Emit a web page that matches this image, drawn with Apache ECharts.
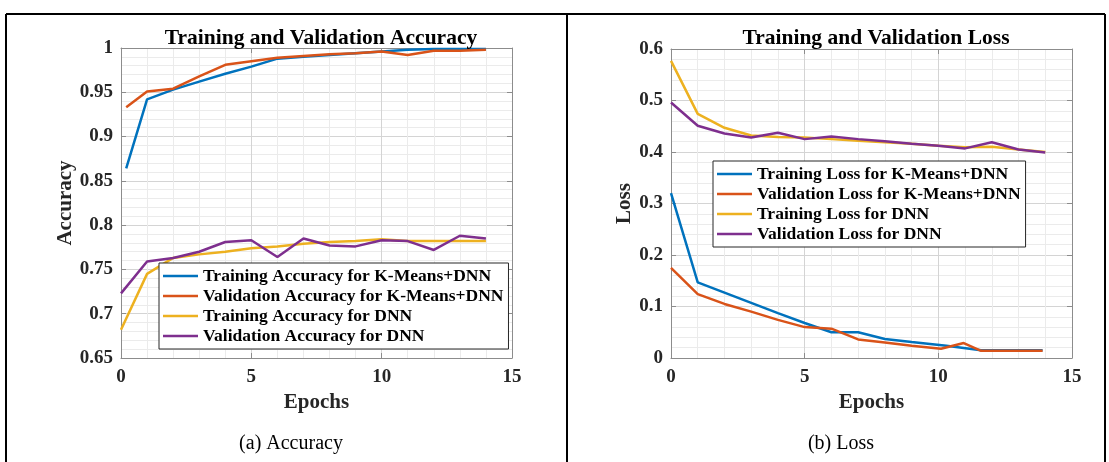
<!DOCTYPE html>
<html>
<head>
<meta charset="utf-8">
<script src="https://cdn.jsdelivr.net/npm/echarts@6/dist/echarts.min.js"></script>
<style>
html,body{margin:0;padding:0;background:#fff;}
#c{width:1109px;height:462px;}
</style>
</head>
<body>
<div id="c"></div>
<script>
// ---------- data ----------
const seriesNamesAcc = [
  'Training Accuracy for K-Means+DNN',
  'Validation Accuracy for K-Means+DNN',
  'Training Accuracy for DNN',
  'Validation Accuracy for DNN'
];
const seriesNamesLoss = [
  'Training Loss for K-Means+DNN',
  'Validation Loss for K-Means+DNN',
  'Training Loss for DNN',
  'Validation Loss for DNN'
];
const xTicks = [0, 5, 10, 15];
const accTicks = [0.65, 0.7, 0.75, 0.8, 0.85, 0.9, 0.95, 1];
const lossTicks = [0, 0.1, 0.2, 0.3, 0.4, 0.5, 0.6];

const accEpochsKM = [0.2, 1, 2, 3, 4, 5, 6, 7, 8, 9, 10, 11, 12, 13, 14];
const accTrainKM  = [0.864, 0.942, 0.953, 0.962, 0.971, 0.979, 0.988, 0.990, 0.992, 0.994, 0.996, 0.998, 0.999, 0.999, 0.999];
const accValKM    = [0.933, 0.951, 0.954, 0.968, 0.981, 0.985, 0.989, 0.991, 0.993, 0.994, 0.996, 0.992, 0.997, 0.997, 0.998];
const accEpochsDNN = [0, 1, 2, 3, 4, 5, 6, 7, 8, 9, 10, 11, 12, 13, 14];
const accTrainDNN = [0.682, 0.745, 0.763, 0.767, 0.770, 0.774, 0.776, 0.779, 0.781, 0.782, 0.784, 0.782, 0.782, 0.782, 0.782];
const accValDNN   = [0.723, 0.759, 0.763, 0.770, 0.781, 0.783, 0.764, 0.785, 0.777, 0.776, 0.783, 0.782, 0.772, 0.788, 0.785];

const lossEpochsTrainKM = [0, 1, 2, 3, 4, 5, 6, 7, 8, 9, 10.3, 11.6, 13.9];
const lossTrainKM       = [0.320, 0.147, 0.127, 0.107, 0.087, 0.068, 0.050, 0.050, 0.037, 0.031, 0.024, 0.015, 0.015];
const lossEpochsValKM   = [0, 1, 2, 3, 4, 5, 6, 7, 8, 9, 10.1, 10.95, 11.6, 13.9];
const lossValKM         = [0.175, 0.124, 0.105, 0.090, 0.074, 0.060, 0.057, 0.036, 0.030, 0.024, 0.018, 0.029, 0.014, 0.014];
const lossEpochsDNN = [0, 1, 2, 3, 4, 5, 6, 7, 8, 9, 10, 11, 12, 13, 14];
const lossTrainDNN  = [0.577, 0.474, 0.447, 0.432, 0.429, 0.428, 0.425, 0.422, 0.419, 0.416, 0.412, 0.409, 0.410, 0.405, 0.400];
const lossValDNN    = [0.496, 0.451, 0.436, 0.428, 0.4375, 0.425, 0.430, 0.425, 0.421, 0.416, 0.412, 0.407, 0.419, 0.405, 0.399];

const colors = ['#0072BD', '#D95319', '#EDB120', '#7E2F8E'];

// ---------- helpers ----------
const FONT = 'Liberation Serif';
const pair = (xs, ys) => xs.map((x, i) => [x, ys[i]]);
const axisGray = '#8c8c8c';

function xAx(grid, pos, ticks) {
  const iv = ticks[1] - ticks[0];
  const main = pos === 'bottom';
  return {
    type: 'value', gridIndex: grid, position: pos,
    min: ticks[0], max: ticks[ticks.length - 1], interval: iv,
    name: main ? 'Epochs' : '', nameLocation: 'middle', nameGap: 33,
    nameTextStyle: {fontFamily: FONT, fontWeight: 'bold', fontSize: 21, color: '#262626'},
    axisLine: {show: true, onZero: false, lineStyle: {color: axisGray, width: 1}},
    axisTick: {show: true, inside: true, length: 5, lineStyle: {color: axisGray}},
    axisLabel: {show: main, margin: 10, fontFamily: FONT, fontWeight: 'bold', fontSize: 19, color: '#262626'},
    splitLine: {show: main, lineStyle: {color: '#d4d4d4', width: 1}},
    minorTick: {show: false, splitNumber: 5},
    minorSplitLine: {show: main, lineStyle: {color: '#ebebeb', width: 1}}
  };
}
function yAx(grid, pos, ticks, name, gap) {
  const iv = +(ticks[1] - ticks[0]).toFixed(4);
  const main = pos === 'left';
  return {
    type: 'value', gridIndex: grid, position: pos,
    min: ticks[0], max: ticks[ticks.length - 1], interval: iv,
    name: main ? name : '', nameLocation: 'middle', nameGap: gap, nameRotate: 90,
    nameTextStyle: {fontFamily: FONT, fontWeight: 'bold', fontSize: 21, color: '#262626'},
    axisLine: {show: true, onZero: false, lineStyle: {color: axisGray, width: 1}},
    axisTick: {show: true, inside: true, length: 5, lineStyle: {color: axisGray}},
    axisLabel: {show: main, margin: 8, fontFamily: FONT, fontWeight: 'bold', fontSize: 19, color: '#262626'},
    splitLine: {show: main, lineStyle: {color: '#d4d4d4', width: 1}},
    minorTick: {show: false, splitNumber: 5},
    minorSplitLine: {show: main, lineStyle: {color: '#ebebeb', width: 1}}
  };
}
function ser(name, data, xi, yi, color) {
  return {
    name, type: 'line', data, xAxisIndex: xi, yAxisIndex: yi,
    showSymbol: false, symbol: 'none', animation: false,
    lineStyle: {color, width: 2.5}, itemStyle: {color}
  };
}
function legend(names, left, top) {
  return {
    data: names, orient: 'vertical', left, top,
    icon: 'rect', itemWidth: 35, itemHeight: 2.5, itemGap: 0,
    padding: [3, 5, 3, 4],
    backgroundColor: '#ffffff', borderColor: '#262626', borderWidth: 1,
    selectedMode: false,
    textStyle: {fontFamily: FONT, fontWeight: 'bold', fontSize: 17.5, color: '#000', lineHeight: 20}
  };
}

const chart = echarts.init(document.getElementById('c'), null, {renderer: 'canvas'});
chart.setOption({
  backgroundColor: '#ffffff',
  animation: false,
  title: [
    {text: 'Training and Validation Accuracy', left: 316, top: 22, textAlign: 'center',
     textStyle: {fontFamily: FONT, fontWeight: 'bold', fontSize: 21.5, color: '#000'}},
    {text: 'Training and Validation Loss', left: 871, top: 22, textAlign: 'center',
     textStyle: {fontFamily: FONT, fontWeight: 'bold', fontSize: 21.5, color: '#000'}},
    {text: '(a) Accuracy', left: 286, top: 429, textAlign: 'center',
     textStyle: {fontFamily: FONT, fontWeight: 'normal', fontSize: 20, color: '#000'}},
    {text: '(b) Loss', left: 836, top: 429, textAlign: 'center',
     textStyle: {fontFamily: FONT, fontWeight: 'normal', fontSize: 20, color: '#000'}}
  ],
  grid: [
    {left: 121, top: 48, width: 391, height: 310},
    {left: 671, top: 49, width: 401, height: 309}
  ],
  legend: [legend(seriesNamesAcc, 159, 263), legend(seriesNamesLoss, 713, 161)],
  xAxis: [xAx(0, 'bottom', xTicks), xAx(0, 'top', xTicks), xAx(1, 'bottom', xTicks), xAx(1, 'top', xTicks)],
  yAxis: [yAx(0, 'left', accTicks, 'Accuracy', 44), yAx(0, 'right', accTicks, '', 0),
          yAx(1, 'left', lossTicks, 'Loss', 36), yAx(1, 'right', lossTicks, '', 0)],
  series: [
    ser(seriesNamesAcc[0], pair(accEpochsKM, accTrainKM), 0, 0, colors[0]),
    ser(seriesNamesAcc[1], pair(accEpochsKM, accValKM), 0, 0, colors[1]),
    ser(seriesNamesAcc[2], pair(accEpochsDNN, accTrainDNN), 0, 0, colors[2]),
    ser(seriesNamesAcc[3], pair(accEpochsDNN, accValDNN), 0, 0, colors[3]),
    ser(seriesNamesLoss[0], pair(lossEpochsTrainKM, lossTrainKM), 2, 2, colors[0]),
    ser(seriesNamesLoss[1], pair(lossEpochsValKM, lossValKM), 2, 2, colors[1]),
    ser(seriesNamesLoss[2], pair(lossEpochsDNN, lossTrainDNN), 2, 2, colors[2]),
    ser(seriesNamesLoss[3], pair(lossEpochsDNN, lossValDNN), 2, 2, colors[3])
  ],
  graphic: [
    {type: 'line', shape: {x1: 6, y1: 14, x2: 1105, y2: 14}, style: {stroke: '#000', lineWidth: 2}, silent: true},
    {type: 'line', shape: {x1: 6, y1: 14, x2: 6, y2: 462}, style: {stroke: '#000', lineWidth: 2}, silent: true},
    {type: 'line', shape: {x1: 567, y1: 14, x2: 567, y2: 462}, style: {stroke: '#000', lineWidth: 2}, silent: true},
    {type: 'line', shape: {x1: 1105, y1: 14, x2: 1105, y2: 462}, style: {stroke: '#000', lineWidth: 2}, silent: true}
  ]
});
</script>
</body>
</html>
